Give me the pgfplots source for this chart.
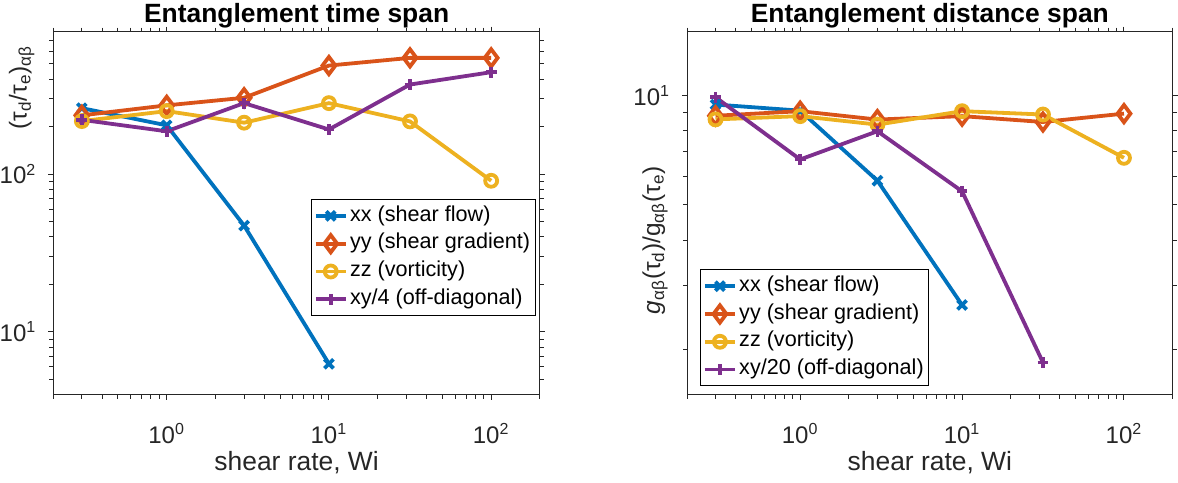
\documentclass[border=0pt]{standalone}
\usepackage{fontspec}
\setmainfont{Liberation Sans}
\usepackage{pgfplots}
\pgfplotsset{compat=1.18}

\definecolor{mblue}{rgb}{0,0.447,0.741}
\definecolor{morange}{rgb}{0.85,0.325,0.098}
\definecolor{myellow}{rgb}{0.929,0.694,0.125}
\definecolor{mpurple}{rgb}{0.494,0.184,0.556}
\definecolor{axgray}{rgb}{0.15,0.15,0.15}

\newcommand{\tl}[1]{10\textsuperscript{#1}}

\pgfplotsset{
 legend image code/.code={\draw[mark repeat=2,mark phase=2,#1]
    plot coordinates {(0pt,0pt) (7.5pt,0pt) (15pt,0pt)};},
 every axis/.append style={
  scale only axis,
  xmin=0.2, xmax=200, clip=false,
  xtick={1,10,100}, xticklabels={\tl{0},\tl{1},\tl{2}},
  minor xtick={0.2,0.3,0.4,0.5,0.6,0.7,0.8,0.9,2,3,4,5,6,7,8,9,20,30,40,50,60,70,80,90,200},
  tick align=outside, major tick length=2.5pt, minor tick length=2pt,
  axis line style={axgray, line width=0.5pt},
  every tick/.style={axgray, line width=0.5pt},
  tick label style={font=\fontsize{12}{14}\selectfont, text=axgray},
  xticklabel style={anchor=base, yshift=-21.7pt},
  yticklabel style={anchor=east, inner sep=0pt, xshift=-5.8pt},
  xlabel={shear rate, Wi},
  xlabel style={at={(axis description cs:0.5,0)}, anchor=base, yshift=-38pt,
    font=\fontsize{13.2}{15}\selectfont, text=axgray},
  title style={at={(axis description cs:0.5,1)}, anchor=base, yshift=-1.65pt,
    font=\bfseries\fontsize{13.2}{15}\selectfont},
  legend style={draw=black, line width=0.5pt, fill=white,
    font=\fontsize{10.8}{13}\selectfont, inner xsep=1.3pt, inner ysep=2.9pt,
    row sep=3.4pt, column sep=0pt, cells={anchor=west},
    nodes={inner xsep=1.2pt, inner ysep=0pt, text height=7.8pt, text depth=2.7pt}},
 },
 sxx/.style={color=mblue, line width=1.9pt, mark=x, mark size=3.2pt, mark options={solid}},
 syy/.style={color=morange, line width=1.9pt, mark=diamond, mark size=4.3pt, mark options={solid}},
 szz/.style={color=myellow, line width=1.9pt, mark=o, mark size=3pt, mark options={solid}},
 sxy/.style={color=mpurple, line width=1.9pt, mark=+, mark size=2.7pt, mark options={solid}},
}

\begin{document}
\begin{tikzpicture}
\useasboundingbox (0,0) rectangle (589pt,241pt);

% left: time span
\begin{loglogaxis}[
  anchor=south west, at={(26.65pt,43.65pt)}, width=243.35pt, height=181.5pt,
  ymin=4, ymax=800,
  ytick={10,100}, yticklabels={\tl{1},\tl{2}},
  minor ytick={5,6,7,8,9,20,30,40,50,60,70,80,90,200,300,400,500,600,700},
  ylabel={(τ\textsubscript{d}/τ\textsubscript{e})\textsubscript{αβ}},
  ylabel style={at={(axis description cs:-0.0649,0.8466)}, anchor=center, inner sep=0pt,
    font=\fontsize{12.2}{15}\selectfont, text=axgray},
  title={Entanglement time span},
  legend style={at={(0.529,0.2165)}, anchor=south west}]
\addplot[sxx] coordinates {(0.3,262) (1,204) (3,47.2) (10,6.28)};
\addlegendentry{xx (shear flow)}
\addplot[syy] coordinates {(0.3,236) (1,273) (3,305) (10,488) (31.6,546) (100,546)};
\addlegendentry{yy (shear gradient)}
\addplot[szz] coordinates {(0.3,217) (1,251) (3,212) (10,282) (31.6,216) (100,90.8)};
\addlegendentry{zz (vorticity)}
\addplot[sxy] coordinates {(0.3,221) (1,187) (3,282) (10,192) (31.6,370) (100,443)};
\addlegendentry{xy/4 (off-diagonal)}
\end{loglogaxis}

% right: distance span
\begin{loglogaxis}[
  anchor=south west, at={(343.5pt,43.65pt)}, width=242.85pt, height=181.5pt,
  ymin=1.5, ymax=15,
  ytick={10}, yticklabels={\tl{1}},
  minor ytick={2,3,4,5,6,7,8,9},
  ylabel={\textit{g}\textsubscript{αβ}(τ\textsubscript{d})/g\textsubscript{αβ}(τ\textsubscript{e})},
  ylabel style={at={(axis description cs:-0.0659,0.426)}, anchor=center, inner sep=0pt,
    font=\fontsize{12.2}{15}\selectfont, text=axgray},
  title={Entanglement distance span},
  legend style={at={(0.0266,0.0229)}, anchor=south west}]
\addplot[sxx] coordinates {(0.3,9.45) (1,9.09) (3,5.83) (10,2.65)};
\addlegendentry{xx (shear flow)}
\addplot[syy] coordinates {(0.3,8.8) (1,9.06) (3,8.59) (10,8.78) (31.6,8.46) (100,8.92)};
\addlegendentry{yy (shear gradient)}
\addplot[szz] coordinates {(0.3,8.6) (1,8.78) (3,8.32) (10,9.06) (31.6,8.87) (100,6.74)};
\addlegendentry{zz (vorticity)}
\addplot[sxy] coordinates {(0.3,9.9) (1,6.67) (3,7.98) (10,5.45) (31.6,1.84)};
\addlegendentry{xy/20 (off-diagonal)}
\end{loglogaxis}
\end{tikzpicture}
\end{document}
